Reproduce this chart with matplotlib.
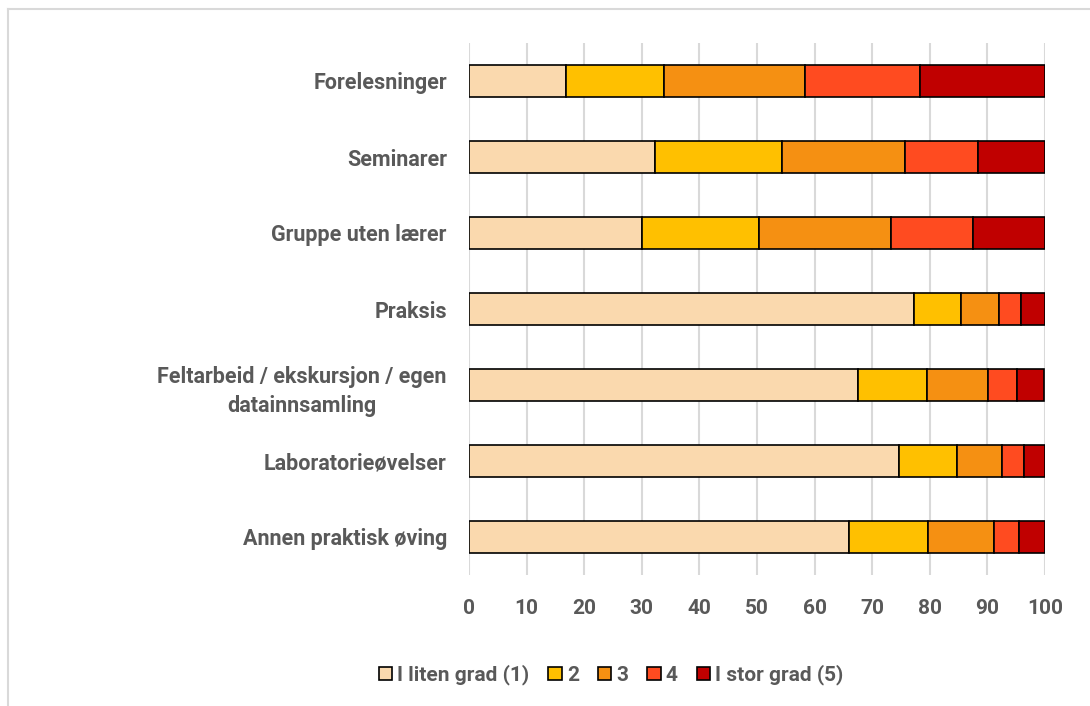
import matplotlib
matplotlib.use("Agg")
import matplotlib.pyplot as plt
from matplotlib.lines import Line2D
import numpy as np

categories = [
    "Forelesninger",
    "Seminarer",
    "Gruppe uten lærer",
    "Praksis",
    "Feltarbeid / ekskursjon / egen\ndatainnsamling",
    "Laboratorieøvelser",
    "Annen praktisk øving",
]
series_names = ["I liten grad (1)", "2", "3", "4", "I stor grad (5)"]

grad_1 = [16.8, 32.3, 30.0, 77.2, 67.6, 74.7, 66.0]
grad_2 = [17.0, 22.1, 20.3, 8.3, 11.9, 10.0, 13.7]
grad_3 = [24.5, 21.3, 22.9, 6.6, 10.6, 7.9, 11.5]
grad_4 = [20.0, 12.6, 14.3, 3.8, 5.1, 3.7, 4.3]
grad_5 = [21.7, 11.7, 12.5, 4.1, 4.7, 3.7, 4.5]

x_ticks = [0, 10, 20, 30, 40, 50, 60, 70, 80, 90, 100]

colors = ["#FAD9AE", "#FFC000", "#F59012", "#FF4B20", "#C00000"]
text_color = "#595959"
grid_color = "#D9D9D9"

plt.rcParams["font.family"] = ["Roboto", "DejaVu Sans"]
plt.rcParams["font.weight"] = "bold"

fig = plt.figure(figsize=(10.9, 7.06), dpi=100)
ax = fig.add_axes([469 / 1090, 1 - 575 / 706, (1045 - 469) / 1090, (575 - 43) / 706])

y = np.arange(len(categories))
left = np.zeros(len(categories))
for name, vals, col in zip(series_names, [grad_1, grad_2, grad_3, grad_4, grad_5], colors):
    vals = np.array(vals)
    ax.barh(y, vals, left=left, height=0.43, color=col, edgecolor="black",
            linewidth=1.2, label=name, zorder=3)
    left += vals

ax.set_xlim(0, 100)
ax.set_ylim(len(categories) - 0.5, -0.5)
ax.set_xticks(x_ticks)
ax.set_xticklabels([str(t) for t in x_ticks])
ax.set_yticks(y)
ax.set_yticklabels(categories, ha="right", multialignment="center")
ax.tick_params(axis="x", length=0, pad=17, labelsize=15, labelcolor=text_color)
ax.tick_params(axis="y", length=0, pad=16, labelsize=15.5, labelcolor=text_color)
for lbl in ax.get_xticklabels() + ax.get_yticklabels():
    lbl.set_fontweight("bold")
for lbl in ax.get_yticklabels():
    lbl.set_linespacing(1.45)

ax.grid(axis="x", color=grid_color, linewidth=1.5, zorder=0)
ax.set_axisbelow(True)
for s in ax.spines.values():
    s.set_visible(False)

leg = fig.legend(loc="center", bbox_to_anchor=(611 / 1090, 1 - 675 / 706), ncol=5,
                 frameon=False, fontsize=15, handlelength=0.65, handleheight=0.65,
                 handletextpad=0.25, columnspacing=0.9, labelcolor=text_color)
for t in leg.get_texts():
    t.set_fontweight("bold")

# outer chart frame
fig.add_artist(Line2D([8 / 1090, 8 / 1090], [0, 1 - 9 / 706], color=grid_color,
                      linewidth=1.5, transform=fig.transFigure))
fig.add_artist(Line2D([8 / 1090, 1], [1 - 9 / 706, 1 - 9 / 706], color=grid_color,
                      linewidth=1.5, transform=fig.transFigure))

fig.savefig("out.png", dpi=100, facecolor="white")
